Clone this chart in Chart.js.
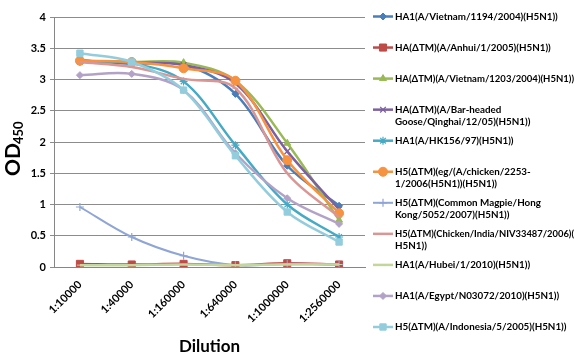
<!DOCTYPE html>
<html>
<head>
<meta charset="utf-8">
<script src="https://cdn.jsdelivr.net/npm/chart.js@4/dist/chart.umd.min.js"></script>
<style>
	html, body { margin: 0; padding: 0; background: #fff; }
</style>
</head>
<body>
<canvas id="odChart" width="575" height="359"></canvas>
<script>
// Dilutions (x categories).
var dilutions = ['1:10000', '1:40000', '1:160000', '1:640000', '1:1000000', '1:2560000'];

// OD450 readings per antigen.
var vietnam1194 = [3.31, 3.25, 3.24, 2.77, 1.62, 0.98];
var anhui = [0.05, 0.04, 0.05, 0.03, 0.06, 0.04];
var vietnam1203 = [3.30, 3.28, 3.27, 2.98, 1.98, 0.75];
var barHeadedGoose = [3.30, 3.27, 3.23, 2.94, 1.85, 0.92];
var hk156 = [3.28, 3.26, 2.97, 1.95, 1.00, 0.48];
var chicken2253 = [3.30, 3.28, 3.18, 2.98, 1.71, 0.86];
var commonMagpie = [0.96, 0.48, 0.18, 0.03, 0.05, 0.04];
var chickenIndia = [3.28, 3.20, 3.01, 2.86, 1.50, 0.80];
var hubei = [0.03, 0.03, 0.04, 0.03, 0.04, 0.04];
var egypt = [3.07, 3.09, 2.83, 1.82, 1.10, 0.69];
var indonesia = [3.42, 3.28, 2.83, 1.78, 0.88, 0.40];

// Y ticks.
var yMin = 0, yMax = 4, yStep = 0.5;

// Legend labels (line breaks as in the original).
var names = [
	['HA1(A/Vietnam/1194/2004)(H5N1))'],
	['HA(ΔTM)(A/Anhui/1/2005)(H5N1))'],
	['HA(ΔTM)(A/Vietnam/1203/2004)(H5N1))'],
	['HA(ΔTM)(A/Bar-headed', 'Goose/Qinghai/12/05)(H5N1))'],
	['HA1(A/HK156/97)(H5N1))'],
	['H5(ΔTM)(eg/(A/chicken/2253-', '1/2006(H5N1))(H5N1))'],
	['H5(ΔTM)(Common Magpie/Hong', 'Kong/5052/2007)(H5N1))'],
	['H5(ΔTM)(Chicken/India/NIV33487/2006)(', 'H5N1))'],
	['HA1(A/Hubei/1/2010)(H5N1))'],
	['HA1(A/Egypt/N03072/2010)(H5N1))'],
	['H5(ΔTM)(A/Indonesia/5/2005)(H5N1))']
];

var series = [vietnam1194, anhui, vietnam1203, barHeadedGoose, hk156, chicken2253,
	commonMagpie, chickenIndia, hubei, egypt, indonesia];
var colors = ['#4a7ebb', '#be4b48', '#98b954', '#7d60a0', '#46aac5', '#f69240',
	'#8ea5d6', '#d99694', '#c3d69b', '#b3a2c7', '#93cddd'];
var markers = ['rectRot', 'rect', 'triangle', 'crossRot', 'star', 'circle',
	'cross', 'line', 'line', 'rectRot', 'rect'];
var markerSizes = [3.5, 5, 4, 4, 4, 4.5, 4, 3, 3, 3.5, 4.5];

var datasets = series.map(function(values, i) {
	return {
		label: names[i].join(' '),
		data: values,
		borderColor: colors[i],
		backgroundColor: colors[i],
		borderWidth: i === 6 ? 2 : 2.5,
		pointStyle: markers[i],
		pointRadius: markerSizes[i],
		pointBorderWidth: (markers[i] === 'crossRot' || markers[i] === 'star' || markers[i] === 'cross') ? 1.2 : 1,
		pointBackgroundColor: colors[i],
		pointBorderColor: colors[i],
		tension: 0.35,
		order: -i
	};
});

// Legend drawn at the right, one item per dataset.
var sideLegend = {
	id: 'sideLegend',
	afterDraw: function(chart) {
		var ctx = chart.ctx;
		ctx.save();
		chart.data.datasets.forEach(function(ds, i) {
			var y = 16.5 + i * 31.05;
			ctx.strokeStyle = ds.borderColor;
			ctx.fillStyle = ds.borderColor;
			ctx.lineWidth = ds.borderWidth;
			ctx.beginPath();
			ctx.moveTo(373, y);
			ctx.lineTo(393, y);
			ctx.stroke();
			ctx.lineWidth = ds.pointBorderWidth;
			Chart.helpers.drawPoint(ctx, {
				pointStyle: ds.pointStyle,
				radius: ds.pointRadius,
				borderWidth: ds.pointBorderWidth,
				rotation: 0
			}, 383, y);
			ctx.fillStyle = '#000';
			ctx.font = 'bold 9.8px Lato';
			ctx.textBaseline = 'middle';
			ctx.textAlign = 'left';
			names[i].forEach(function(line, k) {
				ctx.fillText(line, 395, y + k * 12.3, 179);
			});
		});
		ctx.restore();
	}
};

// Rotated "OD450" axis title with subscript.
var yTitle = {
	id: 'yTitle',
	afterDraw: function(chart) {
		var ctx = chart.ctx;
		ctx.save();
		ctx.translate(20, 176);
		ctx.rotate(-Math.PI / 2);
		ctx.fillStyle = '#000';
		ctx.textBaseline = 'alphabetic';
		ctx.textAlign = 'left';
		ctx.font = 'bold 21px Lato';
		ctx.fillText('OD', 0, 0);
		var w = ctx.measureText('OD').width;
		ctx.font = 'bold 13px Lato';
		ctx.fillText('450', w - 1, 3);
		ctx.restore();
	}
};

new Chart(document.getElementById('odChart'), {
	type: 'line',
	data: { labels: dilutions, datasets: datasets },
	plugins: [sideLegend, yTitle],
	options: {
		responsive: false,
		devicePixelRatio: 1,
		animation: false,
		layout: { padding: { top: 17, right: 210, left: 0, bottom: 0 } },
		plugins: {
			legend: { display: false },
			tooltip: { enabled: false }
		},
		scales: {
			x: {
				offset: true,
				grid: { display: false, drawTicks: false },
				border: { color: '#868686', width: 1 },
				ticks: {
					color: '#000',
					font: { family: 'Lato', weight: 'bold', size: 11 },
					maxRotation: 45,
					minRotation: 45,
					autoSkip: false,
					padding: 11
				},
				title: {
					display: true,
					text: 'Dilution',
					color: '#000',
					font: { family: 'Lato', weight: 'bold', size: 17 },
					padding: { top: 0, bottom: 2 }
				},
				afterFit: function(scale) { scale.height = 92; }
			},
			y: {
				min: yMin,
				max: yMax,
				grid: { color: '#8c8c8c', tickLength: 4 },
				border: { color: '#868686', width: 1 },
				ticks: {
					stepSize: yStep,
					color: '#000',
					font: { family: 'Lato', weight: 'bold', size: 11 },
					padding: 4,
					callback: function(value) { return String(value); }
				},
				afterFit: function(scale) { scale.width = 54; }
			}
		}
	}
});
</script>
</body>
</html>
